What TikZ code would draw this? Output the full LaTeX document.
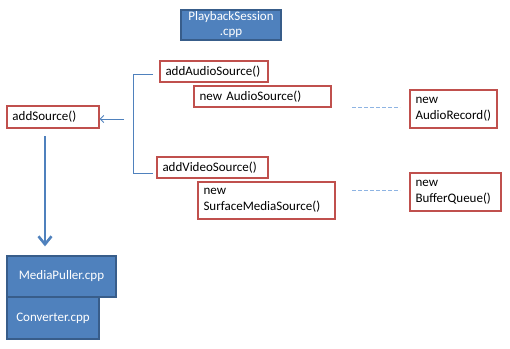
\documentclass[tikz,border=0pt]{standalone}
\usepackage{fontspec}
\setmainfont{Carlito}
\usetikzlibrary{arrows.meta}
\definecolor{boxred}{HTML}{C0504D}
\definecolor{boxblue}{HTML}{4F81BD}
\definecolor{blueborder}{HTML}{385D8A}
\definecolor{dashblue}{HTML}{8EB4E3}
\tikzset{
  txt/.style={font=\fontsize{13}{16}\selectfont},
  redbox/.style={txt, draw=boxred, line width=1.4pt, fill=white, align=left, inner xsep=5.5pt, inner ysep=0pt, anchor=center},
  bluebox/.style={txt, draw=blueborder, line width=1.3pt, fill=boxblue, text=white, align=center, inner sep=0pt, anchor=center},
  thinline/.style={draw=boxblue, line width=0.9pt},
  dashline/.style={draw=dashblue, line width=1pt, dash pattern=on 4pt off 2pt},
  bigarrow/.style={draw=boxblue, line width=2.8pt, -{Straight Barb[length=8pt,width=13pt,line width=2.6pt]}},
  smallarrow/.style={thinline, -{Straight Barb[length=3.5pt,width=7pt]}}
}
\begin{document}
\begin{tikzpicture}[x=1pt,y=-1pt]
\useasboundingbox (0,0) rectangle (510,348);
% blue boxes
\node[bluebox, minimum width=100pt, minimum height=30pt, font=\fontsize{13}{15}\selectfont] (ps) at (231,25) {PlaybackSession\\.cpp};
\node[bluebox, minimum width=109pt, minimum height=41pt] (mp) at (61.5,276.5) {MediaPuller.cpp};
\node[bluebox, minimum width=92pt, minimum height=42pt] (cv) at (53,318) {Converter.cpp};
% red boxes
\node[redbox, minimum height=22pt, text width=81pt] (as) at (53,117) {addSource()};
\node[redbox, minimum height=21pt, text width=97pt] (aas) at (214,71.5) {addAudioSource()};
\node[redbox, minimum height=21pt, text width=126pt] (nas) at (262.5,96.5) {new AudioSource()};
\node[redbox, minimum height=21pt, text width=100pt] (avs) at (212.5,167.5) {addVideoSource()};
\node[redbox, minimum height=37pt, text width=126pt] (nsms) at (266.5,200.5) {new\\SurfaceMediaSource()};
\node[redbox, minimum height=38pt, text width=76pt] (nar) at (453.5,109) {new\\AudioRecord()};
\node[redbox, minimum height=38pt, text width=80pt] (nbq) at (455.5,192) {new\\BufferQueue()};
% bracket
\coordinate (bt) at (153,74);
\coordinate (bb) at (153,173);
\draw[thinline] (bt) -- ++(-20,0) |- (bb);
% thin arrow to addSource
\coordinate (ar) at (124,119);
\draw[smallarrow] (ar) -- (ar -| as.east);
% dashed links
\coordinate (d1s) at (352,107);
\coordinate (d1e) at (400,107);
\coordinate (d2s) at (352,190);
\coordinate (d2e) at (400,190);
\draw[dashline] (d1s) -- (d1e);
\draw[dashline] (d2s) -- (d2e);
% big arrow
\coordinate (ba) at (45,136);
\draw[bigarrow, shorten >=9pt] (ba) -- (ba |- mp.north);
\end{tikzpicture}
\end{document}
